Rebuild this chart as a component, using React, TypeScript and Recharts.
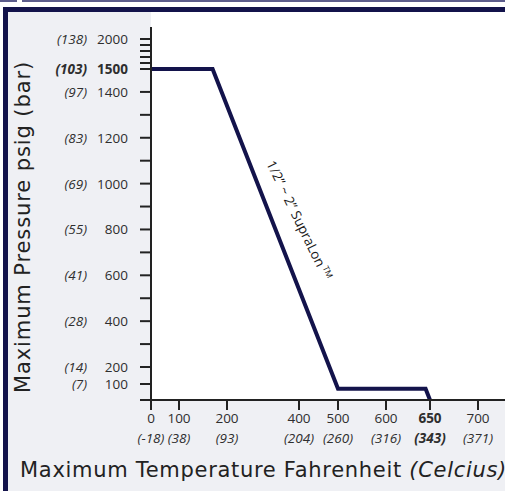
import React from 'react';
import { LineChart, Line, XAxis, YAxis, ReferenceDot, Label } from 'recharts';

// max working pressure against temperature
const tempF = [0, 170, 500, 645, 650];
const pressurePsig = [1500, 1500, 70, 70, 0];

const yTickPsig = [2000, 1500, 1400, 1200, 1000, 800, 600, 400, 200, 100];
const yTickBar = ['(138)', '(103)', '(97)', '(83)', '(69)', '(55)', '(41)', '(28)', '(14)', '(7)'];
const yMinorPsig = [1900, 1800, 1700, 1600, 1300, 1100, 900, 700, 500, 300, 0];

const xTickF = [0, 100, 200, 400, 500, 600, 650, 700];
const xTickC = ['(-18)', '(38)', '(93)', '(204)', '(260)', '(316)', '(343)', '(371)'];

const boldPsig = 1500;
const boldF = 650;

const seriesName = '1/2” ~ 2” SupraLon';

// the original axes are stretched piece by piece: [value, axis units]
const X_BREAKS = [[0, 0], [100, 28], [200, 76], [400, 148], [500, 187], [600, 235], [650, 279], [700, 327], [1000, 471]];
const Y_BREAKS = [[0, 0], [100, 16], [200, 33], [1500, 331], [2000, 361]];

const piecewise = (breaks: number[][], v: number) => {
  for (let i = 1; i < breaks.length; i++) {
    const [v0, u0] = breaks[i - 1];
    const [v1, u1] = breaks[i];
    if (v <= v1 || i === breaks.length - 1) return u0 + ((v - v0) / (v1 - v0)) * (u1 - u0);
  }
  return 0;
};
const toX = (f: number) => piecewise(X_BREAKS, f);
const toY = (p: number) => piecewise(Y_BREAKS, p);

const data = tempF.map((f, i) => ({ xu: toX(f), yu: toY(pressurePsig[i]) }));
const yTicks = [...yTickPsig, ...yMinorPsig].map(toY);
const xTicks = xTickF.map(toX);

const NAVY = '#13134b';
const AXIS = '#222';
const TICK_FONT = '"Open Sans", sans-serif';
const TITLE_FONT = '"DejaVu Sans", sans-serif';

const YTick = (props: any) => {
  const { x, y, payload } = props;
  const idx = yTickPsig.findIndex((p) => Math.abs(toY(p) - payload.value) < 1e-6);
  if (idx < 0) return null;
  const bold = yTickPsig[idx] === boldPsig ? 700 : 400;
  return (
    <g fontFamily={TICK_FONT} fontSize={13.5} fill="#2e2e2e">
      <text x={x} y={y} dy={5} textAnchor="end" fontWeight={bold}>
        {yTickPsig[idx]}
      </text>
      <text x={x - 41} y={y} dy={5} textAnchor="end" fontStyle="italic" fontWeight={bold}>
        {yTickBar[idx]}
      </text>
    </g>
  );
};

const XTick = (props: any) => {
  const { x, y, payload } = props;
  const idx = xTickF.findIndex((f) => Math.abs(toX(f) - payload.value) < 1e-6);
  if (idx < 0) return null;
  const bold = xTickF[idx] === boldF ? 700 : 400;
  return (
    <g fontFamily={TICK_FONT} fontSize={13.5} fill="#2e2e2e" textAnchor="middle">
      <text x={x} y={y} dy={11} fontWeight={bold}>
        {xTickF[idx]}
      </text>
      <text x={x} y={y} dy={31} fontStyle="italic" fontWeight={bold}>
        {xTickC[idx]}
      </text>
    </g>
  );
};

const SeriesLabel = (props: any) => {
  const { cx, cy } = props;
  return (
    <text
      x={cx}
      y={cy}
      dy="0.35em"
      transform={`rotate(64 ${cx} ${cy})`}
      textAnchor="middle"
      fontFamily={TICK_FONT}
      fontSize={13.5}
      fill="#1a1a1a"
    >
      {seriesName}
      <tspan fontSize={8.5} dy={-5}> TM</tspan>
    </text>
  );
};

export default function App() {
  return (
    <div style={{ position: 'fixed', left: 0, top: 0, width: 505, height: 491, overflow: 'hidden', background: '#fff' }}>
      <style>{'body{margin:0}'}</style>
      <div style={{ position: 'absolute', left: 0, top: 0, width: 17, height: 2, background: '#5c5c8c' }} />
      <div style={{ position: 'absolute', left: 22, top: 0, width: 500, height: 2, background: '#5c5c8c' }} />
      <div
        style={{
          position: 'absolute',
          left: 3,
          top: 7,
          width: 600,
          height: 600,
          borderTop: `5px solid ${NAVY}`,
          borderLeft: `5px solid ${NAVY}`,
          background: '#eff0f4',
        }}
      />
      <div style={{ position: 'absolute', left: 151, top: 12, width: 400, height: 388, background: '#fff' }} />
      <div style={{ position: 'absolute', left: 0, top: 0 }}>
        <LineChart width={560} height={491} data={data} margin={{ top: 27, right: 0, bottom: 0, left: 0 }}>
          <XAxis
            dataKey="xu"
            type="number"
            domain={[0, 409]}
            ticks={xTicks}
            interval={0}
            height={91}
            tickSize={10}
            tick={<XTick />}
            axisLine={{ stroke: AXIS, strokeWidth: 2 }}
            tickLine={{ stroke: AXIS, strokeWidth: 2 }}
            allowDataOverflow
          >
            <Label
              content={() => (
                <text x={20} y={477} fontFamily={TITLE_FONT} fontSize={21} letterSpacing={0.7} fill="#222">
                  Maximum Temperature Fahrenheit <tspan fontStyle="italic">(Celcius)</tspan>
                </text>
              )}
            />
          </XAxis>
          <YAxis
            type="number"
            domain={[0, 373]}
            ticks={yTicks}
            interval={0}
            width={151}
            tickSize={11}
            tickMargin={12}
            tick={<YTick />}
            axisLine={{ stroke: AXIS, strokeWidth: 2 }}
            tickLine={{ stroke: AXIS, strokeWidth: 2 }}
            allowDataOverflow
          >
            <Label
              content={() => (
                <text
                  x={30}
                  y={227}
                  transform="rotate(-90 30 227)"
                  textAnchor="middle"
                  fontFamily={TITLE_FONT}
                  fontSize={21}
                  letterSpacing={0.9}
                  fill="#222"
                >
                  Maximum Pressure psig (bar)
                </text>
              )}
            />
          </YAxis>
          <Line
            dataKey="yu"
            type="linear"
            stroke={NAVY}
            strokeWidth={4}
            dot={false}
            activeDot={false}
            isAnimationActive={false}
          />
          <ReferenceDot x={toX(400)} y={toY(840)} r={0} shape={<SeriesLabel />} />
        </LineChart>
      </div>
    </div>
  );
}
